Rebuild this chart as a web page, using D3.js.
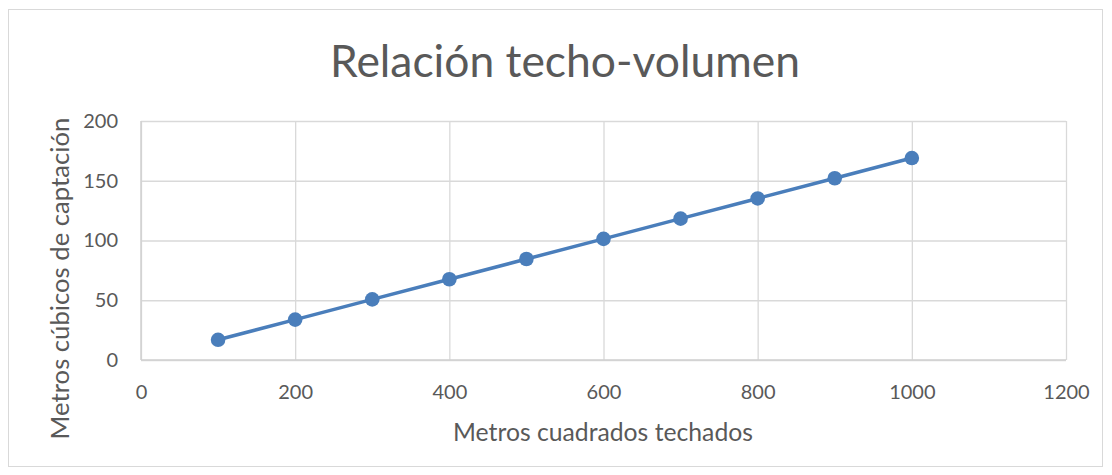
<!DOCTYPE html>
<html>
<head>
<meta charset="utf-8">
<script src="https://cdn.jsdelivr.net/npm/d3@7"></script>
<style>
  html, body { margin: 0; padding: 0; background: #fff; }
  svg { display: block; }
  text { font-family: Lato, "Open Sans", "Liberation Sans", sans-serif; fill: #595959; }
</style>
</head>
<body>
<svg id="chart" width="1112" height="475"></svg>
<script>
// Roof area (m²) and the collected volume (m³) for each area
const areas   = [100, 200, 300, 400, 500, 600, 700, 800, 900, 1000];
const volumes = [16.9, 33.8, 50.7, 67.6, 84.5, 101.4, 118.3, 135.2, 152.1, 169];
const xTicks  = [0, 200, 400, 600, 800, 1000, 1200];
const yTicks  = [0, 50, 100, 150, 200];

const title  = "Relación techo-volumen";
const xTitle = "Metros cuadrados techados";
const yTitle = "Metros cúbicos de captación";

const svg = d3.select("#chart");
const plot = { left: 141, right: 1066, top: 121, bottom: 360 };
const grid = "#d9d9d9";
const blue = "#4a7ebb";

// outer chart frame
svg.append("rect")
  .attr("x", 8.5).attr("y", 9.5)
  .attr("width", 1094).attr("height", 457)
  .attr("fill", "#fff").attr("stroke", grid).attr("stroke-width", 1);

const x = d3.scaleLinear().domain([0, 1200]).range([plot.left, plot.right]);
const y = d3.scaleLinear().domain([0, 200]).range([plot.bottom, plot.top]);

// gridlines
svg.append("g")
  .attr("transform", `translate(0,${plot.bottom})`)
  .call(d3.axisBottom(x).tickValues(xTicks).tickSize(-(plot.bottom - plot.top)).tickFormat(""))
  .call(g => g.select(".domain").remove())
  .call(g => g.selectAll("line").attr("stroke", grid).attr("stroke-width", 1.3));

svg.append("g")
  .attr("transform", `translate(${plot.left},0)`)
  .call(d3.axisLeft(y).tickValues(yTicks).tickSize(-(plot.right - plot.left)).tickFormat(""))
  .call(g => g.select(".domain").remove())
  .call(g => g.selectAll("line").attr("stroke", grid).attr("stroke-width", 1.3));

// axis lines
svg.append("line")
  .attr("x1", plot.left).attr("x2", plot.right)
  .attr("y1", y(0)).attr("y2", y(0))
  .attr("stroke", "#d0d0d0").attr("stroke-width", 1.5);
svg.append("line")
  .attr("x1", x(0)).attr("x2", x(0))
  .attr("y1", plot.top).attr("y2", plot.bottom)
  .attr("stroke", "#d0d0d0").attr("stroke-width", 1.5);

// tick labels
const xAxis = svg.append("g")
  .attr("transform", `translate(0,${plot.bottom})`)
  .call(d3.axisBottom(x).tickValues(xTicks).tickSize(0).tickPadding(25).tickFormat(d3.format("d")));
xAxis.select(".domain").remove();
xAxis.selectAll("text")
  .style("font-size", "20px").style("font-family", "Lato, 'Open Sans', sans-serif").attr("fill", "#595959");

const yAxis = svg.append("g")
  .attr("transform", `translate(${plot.left},0)`)
  .call(d3.axisLeft(y).tickValues(yTicks).tickSize(0).tickPadding(23).tickFormat(d3.format("d")));
yAxis.select(".domain").remove();
yAxis.selectAll("text")
  .style("font-size", "20px").style("font-family", "Lato, 'Open Sans', sans-serif").attr("fill", "#595959");

// series line and markers
const pts = areas.map((a, i) => ({ a, v: volumes[i] }));
svg.append("path")
  .datum(pts)
  .attr("fill", "none")
  .attr("stroke", blue)
  .attr("stroke-width", 3.5)
  .attr("stroke-linejoin", "round")
  .attr("d", d3.line().x(d => x(d.a)).y(d => y(d.v)));

svg.append("g").selectAll("circle")
  .data(pts)
  .join("circle")
  .attr("cx", d => x(d.a))
  .attr("cy", d => y(d.v))
  .attr("r", 7.3)
  .attr("fill", blue);

// titles, scaled to their measured widths
function fitText(sel, width) {
  const w = sel.node().getComputedTextLength();
  const fs = parseFloat(sel.style("font-size"));
  sel.style("font-size", (fs * width / w) + "px");
}

const t = svg.append("text")
  .attr("x", 565).attr("y", 77)
  .attr("text-anchor", "middle")
  .style("font-size", "38px")
  .text(title);
fitText(t, 470);

const xt = svg.append("text")
  .attr("x", 603).attr("y", 441)
  .attr("text-anchor", "middle")
  .style("font-size", "20px")
  .text(xTitle);
fitText(xt, 300);

const yt = svg.append("text")
  .attr("transform", `translate(69,${(plot.top + plot.bottom) / 2 + 38}) rotate(-90)`)
  .attr("text-anchor", "middle")
  .style("font-size", "20px")
  .text(yTitle);
fitText(yt, 322);
</script>
</body>
</html>
